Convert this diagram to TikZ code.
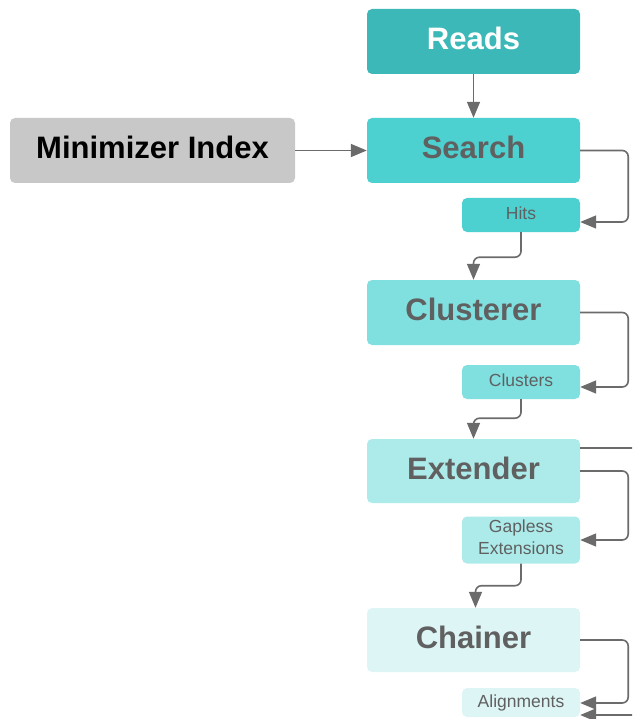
\documentclass[tikz,border=0pt]{standalone}
\usepackage{fontspec}
\setmainfont{Liberation Sans}
\usepackage{tikz}
\usetikzlibrary{arrows.meta,calc,positioning}
\definecolor{readsc}{HTML}{3DB8B8}
\definecolor{searchc}{HTML}{4DD0D0}
\definecolor{clusterc}{HTML}{80E0E0}
\definecolor{extendc}{HTML}{ADEBEB}
\definecolor{chainc}{HTML}{DDF5F5}
\definecolor{indexc}{HTML}{C8C8C8}
\definecolor{linec}{HTML}{6B6B6B}
\definecolor{textc}{HTML}{606060}

\begin{document}
\begin{tikzpicture}[x=1pt,y=-1pt,
		stage/.style={rounded corners=5pt, inner sep=0pt, minimum width=213pt, minimum height=65pt,
			text height=24pt, text depth=8pt, text=textc, font=\bfseries\fontsize{31}{36}\selectfont},
		result/.style={rounded corners=5pt, inner sep=0pt, minimum width=118pt, minimum height=34pt,
			text height=13pt, text depth=4pt, text=textc, align=center, font=\fontsize{17.5}{22}\selectfont},
		flow/.style={draw=linec, line width=1.6pt, rounded corners=6pt, -{Triangle[length=16pt,width=13pt]}}]
		\useasboundingbox (0,0) rectangle (632,719);
		\clip (0,0) rectangle (632,719);
		\node[stage, fill=readsc, text=white] (Reads) at (473.5,41.5) {Reads};
		\node[stage, fill=searchc] (Search) at (473.5,150.5) {Search};
		\node[stage, fill=indexc, text=black, minimum width=285pt] (Index) at (152.5,150.5) {Minimizer Index};
		\node[result, fill=searchc] (Hits) at (521,215) {Hits};
		\node[stage, fill=clusterc] (Clusterer) at (473.5,312.5) {Clusterer};
		\node[result, fill=clusterc] (Clusters) at (521,382) {Clusters};
		\node[stage, fill=extendc, minimum height=64pt] (Extender) at (473.5,471) {Extender};
		\node[result, fill=extendc, minimum height=47pt, text height=35pt, text depth=6pt] (Gapless) at (521,540) {Gapless\\Extensions};
		\node[stage, fill=chainc, minimum height=64pt] (Chainer) at (473.5,640) {Chainer};
		\node[result, fill=chainc, minimum height=29pt] (Alignments) at (521,702.5) {Alignments};
		\coordinate (offA) at (645,448);
		\coordinate (offB) at (645,715);
		\draw[flow] (Reads) -- (Search);
		\draw[flow] (Index) -- (Search);
		\draw[flow] (Search.east) -- ++(48,0) |- ($(Hits.east)+(0,7)$);
		\draw[flow] (Hits.south) -- ++(0,25) -| (Clusterer.north);
		\draw[flow] (Clusterer.east) -- ++(48,0) |- ($(Clusters.east)+(0,5)$);
		\draw[flow] (Clusters.south) -- ++(0,19) -| (Extender.north);
		\draw[flow] (Extender.east) -- ++(48,0) |- (Gapless.east);
		\draw[draw=linec, line width=1.6pt] ($(Extender.east)+(0,-23)$) -- (offA);
		\draw[flow] (Gapless.south) -- ++(0,22) -| ($(Chainer.north)+(2,0)$);
		\draw[flow] (Chainer.east) -- ++(48,0) |- ($(Alignments.east)+(0,0.5)$);
		\draw[flow] (offB) -- ($(Alignments.east)+(0,12.5)$);
	\end{tikzpicture}
\end{document}
